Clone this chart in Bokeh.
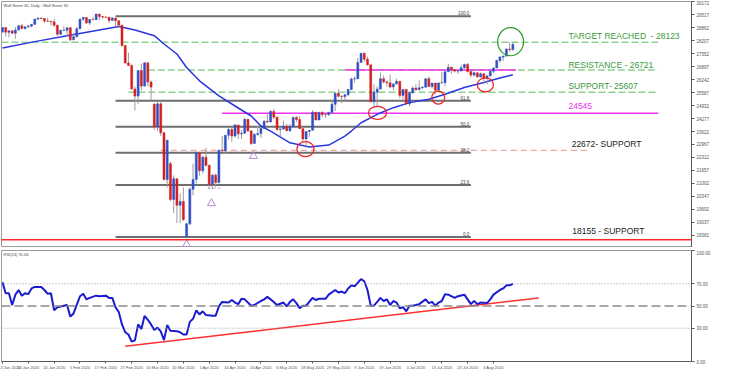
from bokeh.plotting import figure
from bokeh.models import ColumnDataSource, Range1d, FixedTicker, Label, Span
from bokeh.layouts import column
from bokeh.embed import file_html
from bokeh.resources import INLINE
from bokeh.core.properties import value

FONT = "Liberation Sans"

# ---------------- data ----------------
opens = [28640, 28868, 28634, 28703, 28584, 28745, 28957, 28824, 28907, 28940,
         29030, 29298, 29348, 29330, 29196, 29186, 29160, 28990, 28536, 28723,
         28734, 28859, 28256, 28400, 28808, 29291, 29380, 29103, 29277, 29270,
         29551, 29423, 29398, 29390, 29232, 29348, 29220, 28992, 27961, 27081,
         26958, 25767, 25409, 26703, 25917, 27091, 26121, 25000, 23851, 25018,
         23553, 21201, 22000, 20189, 21237, 19899, 20087, 18300, 18960, 20705,
         21201, 22552, 21637, 22327, 21917, 20944, 21413, 21053, 22680, 22654,
         23434, 23719, 23391, 23950, 23504, 23538, 24242, 23650, 23019, 23476,
         23515, 23775, 24134, 24102, 24634, 24346, 23724, 23750, 23883, 23665,
         23876, 24331, 24222, 23765, 23248, 23625, 23685, 24597, 24207, 24576,
         24474, 24465, 24580, 24995, 25548, 25401, 25383, 25475, 25743, 26270,
         26282, 27111, 27572, 27272, 26990, 25128, 25606, 25763, 26290, 26120,
         26080, 25871, 26025, 26156, 25446, 25746, 25016, 25596, 25813, 25735,
         25827, 25860, 26287, 25890, 26067, 25706, 26075, 26086, 26643, 26870,
         26735, 26672, 26681, 26840, 27006, 26652, 26470, 26585, 26379, 26540,
         26314, 26428, 26664, 26828, 27202, 27387, 27433, 27791, 27760]
highs = [28880, 28875, 28710, 28720, 28900, 29000, 29060, 28910, 29010, 29060,
         29300, 29374, 29370, 29350, 29370, 29210, 29320, 28995, 28780, 28950,
         28880, 28910, 28600, 28900, 29330, 29410, 29390, 29290, 29420, 29568,
         29560, 29450, 29420, 29410, 29410, 29370, 29225, 28995, 28000, 27600,
         27000, 25900, 26720, 27050, 27100, 27100, 26200, 25050, 25100, 25100,
         23600, 23200, 22100, 21400, 21240, 20500, 20800, 19000, 20800, 22000,
         22600, 22600, 22400, 22800, 21920, 21480, 21500, 22700, 23400, 23450,
         23850, 23800, 24000, 23960, 23700, 24300, 24250, 23700, 23550, 23900,
         23800, 24200, 24500, 24700, 24760, 24350, 23780, 24170, 24000, 24000,
         24380, 24400, 24400, 23850, 23640, 23700, 24700, 24600, 24620, 24650,
         24520, 24620, 25200, 25580, 25760, 25450, 25530, 25760, 26350, 26400,
         27340, 27580, 27600, 27400, 26995, 26000, 25900, 26600, 26450, 26200,
         26500, 26050, 26290, 26170, 25760, 25780, 25600, 25900, 26000, 26200,
         25900, 26300, 26400, 26080, 26080, 26100, 26640, 26650, 27040, 26875,
         26800, 26700, 27000, 27050, 27080, 26700, 26650, 26600, 26600, 26550,
         26470, 26700, 26850, 27250, 27400, 27450, 27800, 28123, 28100]
lows = [28620, 28420, 28370, 28540, 28300, 28740, 28790, 28760, 28850, 28880,
        29020, 29250, 29300, 29110, 29160, 28960, 28900, 28440, 28500, 28700,
        28450, 28170, 28230, 28390, 28800, 29200, 29050, 29000, 29250, 29260,
        29250, 29320, 29350, 29100, 29230, 28950, 28900, 27900, 27050, 26950,
        25750, 24680, 25000, 25710, 25900, 25900, 25200, 23700, 23650, 23400,
        21150, 20800, 20100, 19500, 19000, 19000, 19100, 18213, 18900, 20400,
        21000, 21400, 21500, 21850, 20730, 20700, 20800, 21000, 22600, 22500,
        23200, 23100, 23300, 23250, 23250, 23500, 23600, 22940, 23000, 23400,
        23300, 23750, 24050, 24100, 24250, 23650, 23360, 23700, 23630, 23600,
        23850, 24100, 23760, 23100, 22790, 23350, 23680, 24180, 24200, 24350,
        24300, 24430, 24580, 24650, 25350, 25050, 25200, 25400, 25700, 26080,
        26280, 27100, 27150, 26950, 25100, 24900, 24840, 25750, 26050, 25900,
        25800, 25700, 26000, 25300, 25250, 24950, 24900, 25500, 25680, 25730,
        25780, 25850, 25880, 25800, 25500, 25620, 26050, 25900, 26640, 26550,
        26600, 26520, 26650, 26800, 26600, 26350, 26400, 26350, 26350, 26000,
        26000, 26420, 26550, 26820, 27100, 27180, 27400, 27650, 27700]
closes = [28868, 28634, 28703, 28584, 28745, 28957, 28824, 28907, 28940, 29030,
          29298, 29348, 29330, 29196, 29186, 29160, 28990, 28536, 28723, 28734,
          28859, 28256, 28400, 28808, 29291, 29380, 29103, 29277, 29270, 29551,
          29423, 29398, 29390, 29232, 29348, 29220, 28992, 27961, 27081, 26958,
          25767, 25409, 26703, 25917, 27091, 26121, 25865, 23851, 25018, 23553,
          21201, 23186, 20189, 21237, 19899, 20087, 19174, 18960, 20705, 21201,
          22552, 21637, 22327, 21917, 20944, 21413, 21053, 22680, 22654, 23434,
          23719, 23391, 23950, 23504, 23538, 24242, 23650, 23019, 23476, 23515,
          23775, 24134, 24102, 24634, 24346, 23724, 23750, 23883, 23665, 23876,
          24331, 24222, 23765, 23248, 23625, 23685, 24597, 24207, 24576, 24474,
          24465, 24580, 24995, 25548, 25401, 25383, 25475, 25743, 26270, 26282,
          27111, 27572, 27272, 26990, 25128, 25606, 25763, 26290, 26120, 26080,
          25871, 26025, 26156, 25446, 25746, 25016, 25596, 25813, 25735, 25827,
          25860, 26287, 25890, 26067, 25706, 26075, 26086, 26643, 26870, 26735,
          26672, 26681, 26840, 27006, 26652, 26470, 26585, 26379, 26540, 26314,
          26428, 26664, 26828, 27202, 27387, 27433, 27791, 27760, 28020]

# 50-period moving average, read at sampled bars
ma_bars = [0, 10, 20, 30, 36, 41, 47, 50, 54, 57, 61, 67, 72, 77, 80, 83, 89,
           95, 101, 106, 108, 111, 116, 121, 126, 132, 137, 143, 149, 154, 158]
ma_values = [27840, 28160, 28460, 28750, 28920, 28750, 28460, 28040, 27535,
             26855, 26180, 25420, 24910, 24405, 23900, 23645, 23050, 22835,
             22935, 23390, 23645, 24065, 24490, 24825, 25080, 25255, 25505,
             25840, 26095, 26320, 26485]

# RSI(14), read at sampled bars
rsi_bars = [0, 1, 2, 3, 4, 5, 6, 7, 8, 9, 10, 12, 13, 14, 15, 16, 17, 19, 20,
            21, 22, 24, 25, 26, 27, 29, 30, 32, 33, 34, 35, 36, 37, 38, 39, 40,
            41, 42, 43, 44, 45, 46, 47, 48, 49, 50, 51, 52, 54, 55, 56, 57, 58,
            59, 60, 61, 62, 63, 65, 66, 67, 68, 70, 71, 72, 73, 74, 75, 77, 78,
            80, 81, 82, 83, 85, 87, 88, 89, 90, 91, 92, 93, 94, 96, 97, 98, 100,
            101, 103, 104, 105, 106, 107, 108, 109, 111, 112, 113, 114, 115,
            116, 117, 118, 119, 120, 121, 122, 123, 124, 125, 126, 127, 128,
            129, 131, 132, 133, 134, 135, 136, 137, 138, 140, 141, 143, 144,
            145, 146, 147, 148, 150, 151, 152, 154, 155, 156, 157, 158]
rsi_values = [71.4, 61.5, 61.5, 50.9, 60.2, 64.4, 59.3, 61.5, 60.7, 65.8, 67.2,
              67.2, 64.4, 61.0, 61.5, 46.1, 48.9, 50.3, 50.9, 40.4, 43.3, 58.8,
              61.0, 56.0, 57.3, 59.3, 58.8, 59.3, 57.3, 57.3, 48.9, 44.6, 33.4,
              26.4, 24.3, 17.9, 19.0, 33.4, 29.2, 41.2, 37.6, 33.4, 28.3, 30.6,
              27.2, 19.3, 32.8, 27.7, 27.2, 26.4, 24.3, 24.3, 35.7, 38.5, 46.1,
              42.4, 45.2, 41.8, 41.2, 41.2, 49.7, 53.7, 53.1, 55.4, 53.1, 51.7,
              56.5, 56.0, 50.3, 50.9, 54.5, 56.0, 58.2, 56.0, 50.9, 53.1, 49.7,
              53.7, 56.0, 52.6, 48.0, 50.3, 50.3, 57.3, 55.4, 56.5, 56.5, 60.2,
              64.4, 62.1, 63.0, 61.5, 65.8, 68.6, 67.8, 74.2, 72.3, 64.4, 50.3,
              50.3, 53.7, 57.3, 54.5, 56.0, 50.9, 54.5, 53.1, 48.0, 48.9, 45.2,
              50.3, 50.3, 50.9, 51.7, 56.0, 52.6, 53.7, 50.3, 53.1, 54.5, 60.7,
              60.2, 57.3, 58.8, 60.2, 56.0, 51.7, 54.5, 51.7, 53.1, 52.6, 56.0,
              60.2, 64.4, 65.8, 68.6, 68.6, 70.06]
rsi_trend_bars = [38, 166]
rsi_trend_values = [13.7, 57.3]
rsi_level_values = [0, 30, 50, 70, 100]
rsi_level_labels = ["0.00", "30.00", "50.00", "70.00", "100.00"]

# date axis
date_tick_bars = [0, 8, 16, 24, 32, 40, 48, 56, 64, 72, 80, 88, 96, 104, 112,
                  120, 128, 136, 144, 152]
date_tick_labels = ["2 Jan 2020", "14 Jan 2020", "24 Jan 2020", "5 Feb 2020",
                    "17 Feb 2020", "27 Feb 2020", "10 Mar 2020", "20 Mar 2020",
                    "1 Apr 2020", "14 Apr 2020", "24 Apr 2020", "6 May 2020",
                    "18 May 2020", "29 May 2020", "9 Jun 2020", "19 Jun 2020",
                    "1 Jul 2020", "13 Jul 2020", "23 Jul 2020", "4 Aug 2020"]

price_ticks = [30172, 29517, 28862, 28207, 27552, 26897, 26242, 25587, 24932,
               24277, 23622, 22967, 22312, 21657, 21002, 20347, 19692, 19037,
               18382]

# Fibonacci retracement
fib_high = 29440
fib_low = 18290
fib_ratios = [0.0, 0.236, 0.382, 0.5, 0.618, 1.0]
fib_labels = ["0.0", "23.6", "38.2", "50.0", "61.8", "100.0"]

# key levels
target_level = 28123
resistance_level = 26721
support_level = 25607
magenta_level = 24545
support_22672 = 22672
support_18155 = 18155

# annotation marks (bar, price)
red_circle_bars = [93.8, 116.1, 134.9, 149.5]
red_circle_prices = [22733, 24558, 25334, 25978]
green_circle_bar = [157.3]
green_circle_price = [28158]
triangle_bars = [57, 64.7, 77.7]
triangle_prices = [17917, 19995, 22378]
small_dash_price = 20756

# ---------------- styling ----------------
UP = "#2f4fc8"
DOWN = "#d41f1f"
GREEN_TXT = "#3a9a3a"
GREEN_DASH = "#8fd18f"
MAGENTA = "#ee33ee"
FIB_COL = "#6e6e6e"
AXIS_COL = "#5a5a5a"
LBL_COL = "#555555"
SEP_COL = "#a2a2a2"

W = 750
RB = 59
X0, X1 = -0.3, 213.3
P0, P1 = 17765, 30186

tops = [max(o, c) for o, c in zip(opens, closes)]
bots = [min(o, c) for o, c in zip(opens, closes)]
cols = [UP if c >= o else DOWN for o, c in zip(opens, closes)]
bars = list(range(len(closes)))
src = ColumnDataSource(dict(x=bars, high=highs, low=lows, top=tops, bottom=bots, color=cols))

p = figure(width=W, height=247, output_backend="svg", toolbar_location=None,
           x_range=Range1d(X0, X1), y_range=Range1d(P0, P1),
           x_axis_location=None, y_axis_location="right",
           min_border_left=1, min_border_right=RB,
           min_border_top=1, min_border_bottom=0)
p.grid.visible = False
p.outline_line_color = "#9a9a9a"
p.yaxis.ticker = FixedTicker(ticks=price_ticks)
p.yaxis.major_label_text_font_size = "4.5px"
p.yaxis.major_label_text_color = LBL_COL
p.yaxis.major_label_text_font = FONT
p.yaxis.major_tick_out = 3
p.yaxis.major_tick_in = 0
p.yaxis.minor_tick_line_color = None
p.yaxis.axis_line_color = AXIS_COL
p.yaxis.major_tick_line_color = AXIS_COL
p.yaxis.major_label_standoff = 2

# horizontal level lines
p.segment(x0=[X0], y0=[target_level], x1=[203], y1=[target_level],
          line_color=GREEN_DASH, line_width=1.5, line_dash="7 3")
p.segment(x0=[45], y0=[resistance_level], x1=[203], y1=[resistance_level],
          line_color=GREEN_DASH, line_width=1.5, line_dash="7 3")
p.segment(x0=[39], y0=[support_level], x1=[203], y1=[support_level],
          line_color=GREEN_DASH, line_width=1.5, line_dash="7 3")
p.segment(x0=[106], y0=[resistance_level], x1=[159], y1=[resistance_level],
          line_color=MAGENTA, line_width=1.5)
p.segment(x0=[68], y0=[magenta_level], x1=[203], y1=[magenta_level],
          line_color=MAGENTA, line_width=1.5)
p.segment(x0=[49], y0=[support_22672], x1=[182], y1=[support_22672],
          line_color="#f4a5a5", line_width=1.3, line_dash="6 4")
p.segment(x0=[63.5], y0=[small_dash_price], x1=[68], y1=[small_dash_price],
          line_color="#c8a8e0", line_width=1, line_dash="3 2")
p.add_layout(Span(location=support_18155, dimension="width",
                  line_color="#ff2a2a", line_width=1.5))

# fibonacci
fib_levels = [fib_low + r * (fib_high - fib_low) for r in fib_ratios]
p.segment(x0=[35] * len(fib_levels), y0=fib_levels, x1=[145] * len(fib_levels),
          y1=fib_levels, line_color=FIB_COL, line_width=2)
p.text(x=[144.5] * len(fib_levels), y=fib_levels, text=fib_labels,
       text_font=value(FONT), text_font_size="4.5px", text_color="#444444",
       text_align="right", text_baseline="bottom", y_offset=-1)

# moving average
p.line(ma_bars, ma_values, line_color="#2a36e0", line_width=1.5)

# candles
p.segment(x0="x", y0="low", x1="x", y1="high", source=src,
          line_color="#9c9c9c", line_width=1)
p.vbar(x="x", top="top", bottom="bottom", width=0.62, source=src,
       fill_color="color", line_color="color", line_width=0.5)

# annotations
p.ellipse(x=red_circle_bars, y=red_circle_prices, width=[5.3, 5.6, 4.0, 5.0],
          height=[760, 660, 660, 710], fill_color=None, line_color="#ee2222",
          line_width=1.2)
p.ellipse(x=green_circle_bar, y=green_circle_price, width=8.0, height=1420,
          fill_color=None, line_color="#2f9a2f", line_width=1.2)
p.scatter(x=triangle_bars, y=triangle_prices, marker="triangle", size=8,
          fill_color=None, line_color="#b08cd8", line_width=1)

txt_x = 175.2
p.text(x=[txt_x, txt_x, txt_x], y=[28462, 26992, 25927],
       text=["TARGET REACHED\u00a0 - %d" % target_level,
             "RESISTANCE - %d" % resistance_level,
             "SUPPORT- %d" % support_level],
       text_font=value(FONT), text_font_size="8.5px", text_color=GREEN_TXT,
       text_baseline="middle")
p.text(x=[txt_x], y=[24889], text=["%d" % magenta_level],
       text_font=value(FONT), text_font_size="8.5px", text_color=MAGENTA,
       text_baseline="middle")
p.text(x=[176.2, 176.4], y=[22987, 18576],
       text=["%d- SUPPORT" % support_22672, "%d - SUPPORT" % support_18155],
       text_font=value(FONT), text_font_size="8.5px", text_color="#222222",
       text_baseline="middle")

p.add_layout(Label(x=X0, y=P1, x_offset=2, y_offset=-1,
                   text="Wall Street 30, Daily : Wall Street 30",
                   text_font=FONT, text_font_size="4px", text_color="#444444",
                   text_baseline="top"))

# separator between panes (a 3px grey strip)
sep = figure(width=W, height=3, output_backend="svg", toolbar_location=None,
             x_range=Range1d(0, 1), y_range=Range1d(0, 1),
             x_axis_location=None, y_axis_location=None, min_border=0,
             background_fill_color=SEP_COL, border_fill_color=SEP_COL,
             outline_line_color=None)
sep.grid.visible = False

# ---------------- RSI panel ----------------
r = figure(width=W, height=122, output_backend="svg", toolbar_location=None,
           x_range=p.x_range, y_range=Range1d(0, 100),
           y_axis_location="right", min_border_left=1, min_border_right=RB,
           min_border_top=0, min_border_bottom=10)
r.grid.visible = False
r.outline_line_color = "#9a9a9a"
r.yaxis.ticker = FixedTicker(ticks=rsi_level_values)
r.yaxis.major_label_overrides = {v: l for v, l in zip(rsi_level_values, rsi_level_labels)}
r.yaxis.major_label_text_font_size = "4.5px"
r.yaxis.major_label_text_font = FONT
r.yaxis.major_label_text_color = LBL_COL
r.yaxis.major_tick_out = 3
r.yaxis.major_tick_in = 0
r.yaxis.minor_tick_line_color = None
r.yaxis.axis_line_color = AXIS_COL
r.yaxis.major_tick_line_color = AXIS_COL
r.yaxis.major_label_standoff = 2

r.xaxis.ticker = FixedTicker(ticks=date_tick_bars)
r.xaxis.major_label_overrides = {b: l for b, l in zip(date_tick_bars, date_tick_labels)}
r.xaxis.major_label_text_font_size = "4px"
r.xaxis.major_label_text_font = FONT
r.xaxis.major_label_text_color = LBL_COL
r.xaxis.major_label_text_align = "left"
r.xaxis.major_tick_out = 2
r.xaxis.major_tick_in = 0
r.xaxis.minor_tick_line_color = None
r.xaxis.axis_line_color = AXIS_COL
r.xaxis.major_tick_line_color = AXIS_COL
r.xaxis.major_label_standoff = 1

for lv in (30, 70):
    r.add_layout(Span(location=lv, dimension="width", line_color="#9a9a9a",
                      line_width=1, line_dash="1 2"))
r.add_layout(Span(location=50, dimension="width", line_color="#8c8c8c",
                  line_width=1.5, line_dash="9 4"))

r.line(rsi_trend_bars, rsi_trend_values, line_color="#ff3030", line_width=1.5)
r.line(rsi_bars, rsi_values, line_color="#1a1ad0", line_width=2)

r.add_layout(Label(x=X0, y=100, x_offset=2, y_offset=-1, text="RSI(14) 70.06",
                   text_font=FONT, text_font_size="4px", text_color="#444444",
                   text_baseline="top"))

layout = column(p, sep, r, spacing=0)
open("out.html", "w").write(file_html(layout, INLINE))
